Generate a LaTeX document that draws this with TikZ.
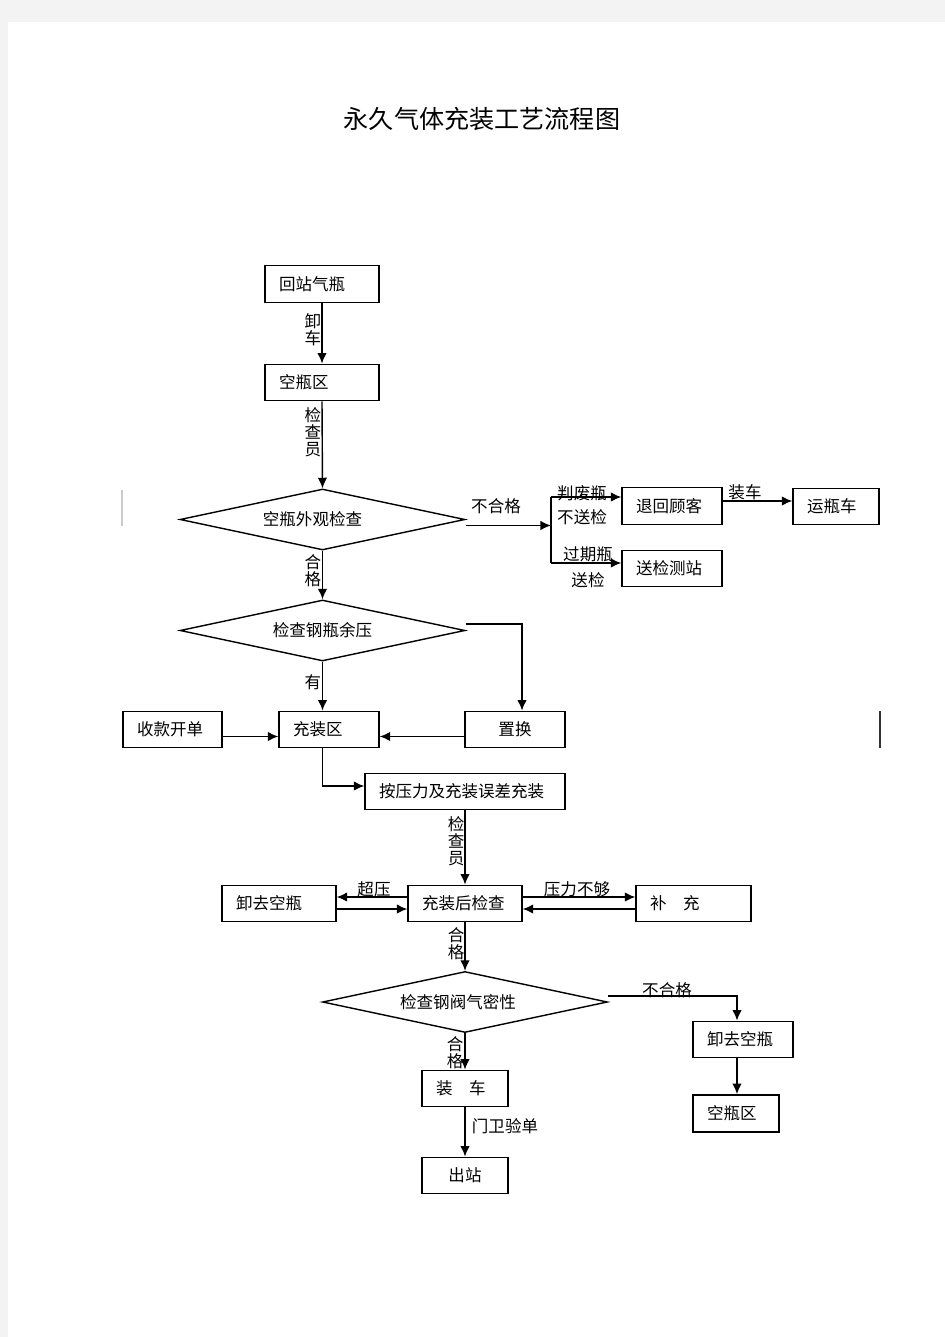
\documentclass[tikz,border=0pt]{standalone}
\usepackage{fontspec}
\setmainfont{Noto Sans CJK SC}
\usepackage{tikz}
\usetikzlibrary{shapes,arrows,arrows.meta,positioning,calc}
\newcommand{\flowfont}{\fontsize{9.4}{10}\selectfont}
\newcommand{\vertfont}{\fontsize{9.4}{9.6}\selectfont}
\newcommand{\titlefont}{\fontsize{14.3}{16}\selectfont}
\definecolor{pagegrey}{HTML}{F3F3F3}
\tikzset{
box/.style = {draw, fill=white, rectangle, align=left, inner xsep=0.28cm, inner ysep=0pt, minimum height=0.73cm, text width=#1, font=\flowfont},
cbox/.style = {box=#1, align=center},
check/.style = {draw, fill=white, diamond, aspect=4.7, inner sep=0pt, minimum width=5.7cm, minimum height=1.22cm, font=\flowfont},
lbl/.style = {inner sep=0pt, font=\flowfont},
vlbl/.style = {inner sep=0pt, align=center, font=\vertfont},
}

\begin{document}
\begin{tikzpicture}[x=0.02cm, y=-0.02cm, >={Latex[length=6pt,width=5.4pt]}, line width=0.8pt]
        \fill[pagegrey] (0,0) rectangle (945,1337);
        \fill[white] (8,22) rectangle (945,1337);
        \useasboundingbox (0,0) rectangle (945,1337);

        \node [font=\titlefont] (title) at (482,119) {永久气体充装工艺流程图};

        %main column
        \node [box=1.72cm] (zhan) at (322,284) {回站气瓶};
        \node [box=1.72cm] (kong1) at (322,382.5) {空瓶区};
        \node [check] (d1) at (322.5,519.5) {空瓶外观检查\hspace*{0.4cm}};
        \node [check] (d2) at (322.5,630.5) {检查钢瓶余压};
        \node [box=1.42cm] (shoukuan) at (172.5,729.5) {收款开单};
        \node [box=1.44cm] (chong) at (329,729.5) {充装区};
        \node [cbox=1.44cm] (zhihuan) at (515,729.5) {置换};
        \node [box=3.44cm] (anya) at (465,791.5) {按压力及充装误差充装};
        \node [box=1.72cm] (jiancha) at (465,903.5) {充装后检查};
        \node [box=1.72cm] (xiequ1) at (279,903.5) {卸去空瓶};
        \node [box=1.74cm] (buchong) at (693.5,903.5) {补\hspace{1em}充};
        \node [check] (d3) at (465,1002) {检查钢阀气密性\hspace*{0.28cm}};
        \node [box=1.16cm] (zhuangche) at (465,1088.5) {装\hspace{1em}车};
        \node [cbox=1.16cm] (chuzhan) at (465,1175.5) {出站};

        %right side
        \node [box=1.44cm] (tuihui) at (672,506) {退回顾客};
        \node [box=1.16cm] (yunping) at (836,506.5) {运瓶车};
        \node [box=1.44cm] (songjian) at (672,568.5) {送检测站};
        \node [box=1.44cm] (xiequ2) at (743,1039.5) {卸去空瓶};
        \node [box=1.16cm, line width=1.3pt] (kong2) at (736,1113.5) {空瓶区};

        \coordinate (fork) at (551,525.5);
        \coordinate (ftop) at (551,497);
        \coordinate (fbot) at (551,563);
        \coordinate (zr) at (522,624);
        \coordinate (br) at (737,996);

        \draw [->] (zhan) -- (kong1);
        \draw [->] (kong1.south) -- (d1.north);
        \draw [->] (d1.south) -- (d2.north);
        \draw [->] (d1.east |- fork) -- (fork);
        \draw (ftop) -- (fbot);
        \draw [->] (ftop) -- (ftop -| tuihui.west);
        \draw [->] (fbot) -- (fbot -| songjian.west);
        \draw [->] ($(tuihui.east)+(0,-5)$) -- ($(yunping.west)+(0,-5.5)$);
        \draw [->] (d2.east |- zr) -- (zr) -- (zr |- zhihuan.north);
        \draw [->] (d2.south) -- (d2.south |- chong.north);
        \draw [->] ($(shoukuan.east)+(0,7)$) -- ($(chong.west)+(0,7)$);
        \draw [->] ($(zhihuan.west)+(0,7)$) -- ($(chong.east)+(0,7)$);
        \draw [->] (d2.south |- chong.south) |- ($(anya.west)+(0,-5.5)$);
        \draw [->] (anya) -- (jiancha);
        \draw [->] ($(jiancha.west)+(0,-6.5)$) -- ($(xiequ1.east)+(0,-6.5)$);
        \draw [->] ($(xiequ1.east)+(0,5.5)$) -- ($(jiancha.west)+(0,5.5)$);
        \draw [->] ($(jiancha.east)+(0,-6.5)$) -- ($(buchong.west)+(0,-6.5)$);
        \draw [->] ($(buchong.west)+(0,5.5)$) -- ($(jiancha.east)+(0,5.5)$);
        \draw [->] (jiancha) -- (d3);
        \draw [->] (d3.south) -- (zhuangche.north);
        \draw [->] (zhuangche) -- (chuzhan);
        \draw [->] (d3.east |- br) -- (br) -- (br |- xiequ2.north);
        \draw [->] (br |- xiequ2.south) -- (br |- kong2.north);

        %labels
        \node [vlbl] (l-xieche) at (313,330) {卸\\车};
        \node [vlbl] (l-jcy1) at (313,432) {检\\查\\员};
        \node [vlbl] (l-hege1) at (313,571) {合\\格};
        \node [lbl] (l-you) at (313,682) {有};
        \node [lbl] (l-buhege1) at (496,506) {不合格};
        \node [lbl] (l-feiping) at (582,493) {判废瓶};
        \node [lbl] (l-busong) at (582,517) {不送检};
        \node [lbl] (l-guoqi) at (588,554) {过期瓶};
        \node [lbl] (l-songjian) at (588,580) {送检};
        \node [lbl] (l-zhuang) at (745,492) {装车};
        \node [vlbl] (l-jcy2) at (456,841) {检\\查\\员};
        \node [lbl] (l-chaoya) at (374,889) {超压};
        \node [lbl] (l-yali) at (577,889) {压力不够};
        \node [vlbl] (l-hege2) at (456,944) {合\\格};
        \node [lbl] (l-buhege2) at (667,990) {不合格};
        \node [vlbl] (l-hege3) at (455,1053) {合\\格};
        \node [lbl] (l-menwei) at (505,1126) {门卫验单};

        %stray marks
        \draw [black!20, line width=0.6pt] (122,490) -- (122,526);
        \draw [black!80] (880,711) -- (880,748);
\end{tikzpicture}
\end{document}
